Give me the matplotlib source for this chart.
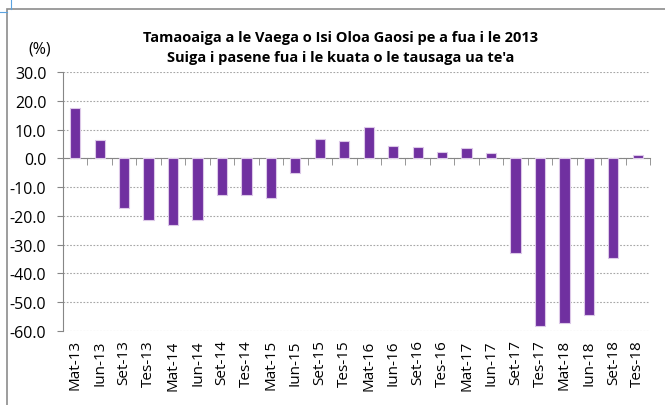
import numpy as np
import matplotlib.pyplot as plt
from matplotlib.patches import Rectangle
from matplotlib.lines import Line2D

# Data
quarters = ['Mat-13', 'Iun-13', 'Set-13', 'Tes-13', 'Mat-14', 'Iun-14', 'Set-14', 'Tes-14',
            'Mat-15', 'Iun-15', 'Set-15', 'Tes-15', 'Mat-16', 'Iun-16', 'Set-16', 'Tes-16',
            'Mat-17', 'Iun-17', 'Set-17', 'Tes-17', 'Mat-18', 'Iun-18', 'Set-18', 'Tes-18']
change_pct = [17.4, 6.4, -17.4, -21.4, -23.1, -21.4, -12.7, -12.7,
              -13.7, -5.2, 6.7, 6.1, 10.9, 4.4, 3.8, 2.2,
              3.5, 1.8, -33.0, -58.1, -57.3, -54.4, -34.7, 1.2]
y_ticks = [30, 20, 10, 0, -10, -20, -30, -40, -50, -60]

title = "Tamaoaiga a le Vaega o Isi Oloa Gaosi pe a fua i le 2013\nSuiga i pasene fua i le kuata o le tausaga ua te'a"

plt.rcParams['font.family'] = ['Open Sans', 'DejaVu Sans']
axis_grey = '#868686'

fig = plt.figure(figsize=(6.65, 4.06), dpi=100)
ax = fig.add_axes([63 / 665, 1 - 332 / 406, 587 / 665, 259 / 406])

x = np.arange(len(quarters))
ax.bar(x, change_pct, width=0.42, color='#7030A0', edgecolor='#DCC8E8', linewidth=0.8, zorder=3)

ax.set_xlim(-0.5, len(quarters) - 0.5)
ax.set_ylim(-60, 30)
ax.set_yticks(y_ticks)
ax.set_yticklabels([f'{v:.1f}' for v in y_ticks], fontsize=11.5)
ax.tick_params(axis='y', direction='out', length=4, color=axis_grey, pad=8)
ax.yaxis.grid(True, linestyle=(0, (1.5, 1.5)), color='#A6A6A6', linewidth=0.8, zorder=0)

# x axis line sits on zero, tick marks between categories
ax.spines['bottom'].set_position(('data', 0))
ax.spines['bottom'].set_color(axis_grey)
ax.spines['left'].set_color(axis_grey)
ax.spines['top'].set_visible(False)
ax.spines['right'].set_visible(False)
ax.set_xticks(x)
ax.set_xticklabels([])
ax.tick_params(axis='x', which='major', length=0)
ax.set_xticks(np.arange(len(quarters) + 1) - 0.5, minor=True)
ax.tick_params(axis='x', which='minor', direction='out', length=5, color=axis_grey)

# category labels at the bottom of the plot area
sec = ax.secondary_xaxis(0)
sec.set_xticks(x)
sec.set_xticklabels(quarters, rotation=90, fontsize=11)
sec.tick_params(length=0, pad=6)
sec.spines['bottom'].set_visible(False)

fig.text(0.512, 1 - 48 / 406, title, ha='center', va='center', fontsize=10.5,
         fontweight='bold', linespacing=1.5)
fig.text(40 / 665, 1 - 50 / 406, '(%)', ha='center', va='center', fontsize=11.5)

# chart frame (cropped) and selection marks
fig.patches.append(Rectangle((7 / 665, -0.1), 1.2, 1.1 - 10 / 406,
                             transform=fig.transFigure, fill=False,
                             edgecolor='#8C8C8C', linewidth=1.2))
fig.lines.append(Line2D([11 / 665, 11 / 665], [1, 1 - 10 / 406], transform=fig.transFigure,
                        color='#5BA3E0', linewidth=0.8))
fig.lines.append(Line2D([0, 7 / 665], [1 - 13 / 406, 1 - 13 / 406], transform=fig.transFigure,
                        color='#5BA3E0', linewidth=0.8))

fig.savefig('out.png', dpi=100)
